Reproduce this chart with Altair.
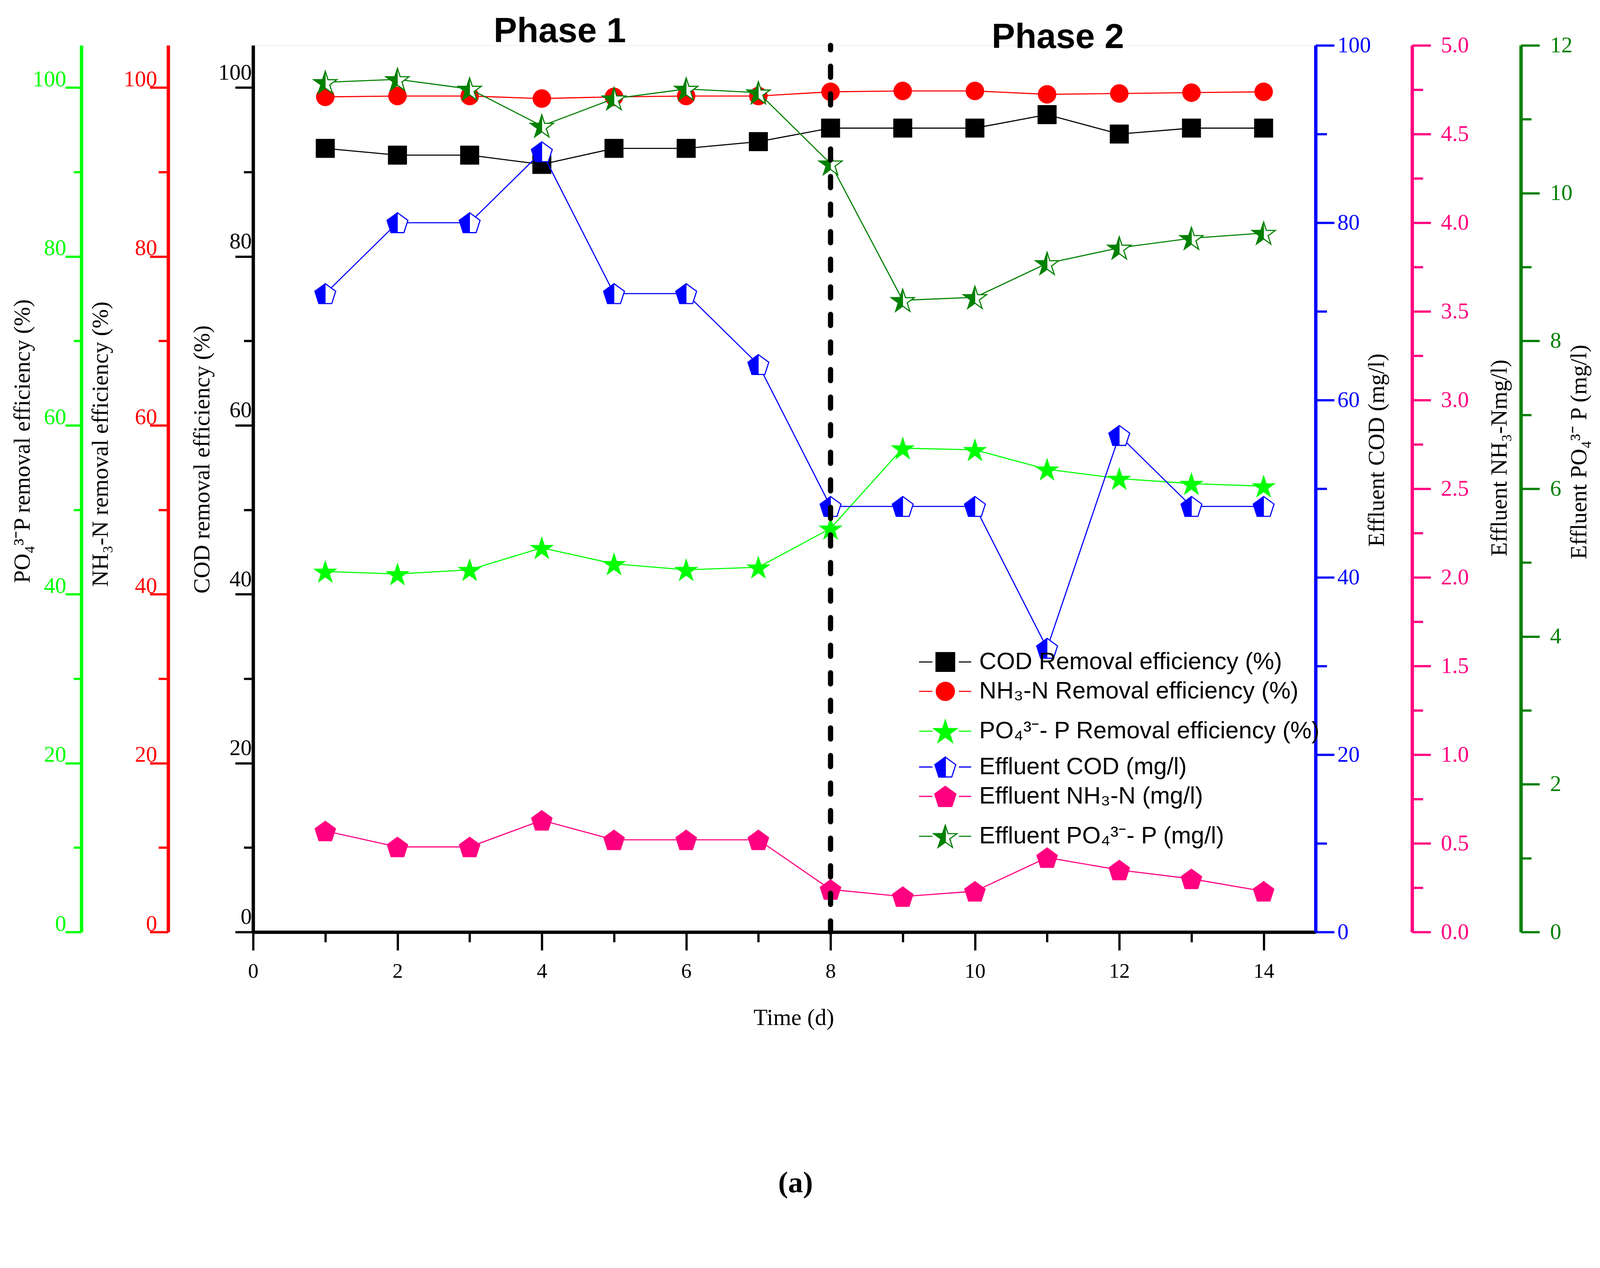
import altair as alt
import pandas as pd

# ---------------- data ----------------
days = list(range(1, 15))
cod_removal = [92.8, 92.0, 92.0, 90.9, 92.8, 92.8, 93.6, 95.2, 95.2, 95.2, 96.8, 94.5, 95.2, 95.2]
nh3_removal = [98.9, 99.0, 99.0, 98.7, 98.9, 99.0, 99.0, 99.5, 99.6, 99.6, 99.2, 99.3, 99.4, 99.5]
po4_removal = [42.7, 42.4, 42.9, 45.5, 43.6, 42.9, 43.2, 47.8, 57.3, 57.1, 54.8, 53.7, 53.1, 52.8]
eff_cod = [72, 80, 80, 88, 72, 72, 64, 48, 48, 48, 32, 56, 48, 48]
eff_nh3 = [0.57, 0.48, 0.48, 0.63, 0.52, 0.52, 0.52, 0.24, 0.20, 0.23, 0.42, 0.35, 0.30, 0.23]
eff_po4 = [11.50, 11.54, 11.41, 10.91, 11.28, 11.41, 11.36, 10.40, 8.55, 8.59, 9.05, 9.26, 9.39, 9.46]

legend_labels = [
    "COD Removal efficiency (%)",
    "NH\u2083-N Removal efficiency (%)",
    "PO\u2084\u00b3\u207b- P Removal efficiency (%)",
    "Effluent COD (mg/l)",
    "Effluent NH\u2083-N (mg/l)",
    "Effluent PO\u2084\u00b3\u207b- P (mg/l)",
]
legend_rows = [31.98, 28.5, 23.78, 19.54, 16.06, 11.34]   # in % scale units
legend_symbol_day = 9.59
legend_text_day = 10.06
legend_seg_left = [9.226, 9.412]
legend_seg_right = [9.778, 9.948]

phase_labels = ["Phase 1", "Phase 2"]
phase_days = [4.25, 11.15]
phase_levels = [106.6, 105.9]
phase_boundary = 8

x_major = [0, 2, 4, 6, 8, 10, 12, 14]
x_minor = [1, 3, 5, 7, 9, 11, 13]
pct_major = [0, 20, 40, 60, 80, 100]
pct_minor = [10, 30, 50, 70, 90]
cod_major = [0, 20, 40, 60, 80, 100]
cod_minor = [10, 30, 50, 70, 90]
nh3_major = [0, 0.5, 1.0, 1.5, 2.0, 2.5, 3.0, 3.5, 4.0, 4.5, 5.0]
nh3_minor = [0.25, 0.75, 1.25, 1.75, 2.25, 2.75, 3.25, 3.75, 4.25, 4.75]
po4_major = [0, 2, 4, 6, 8, 10, 12]
po4_minor = [1, 3, 5, 7, 9, 11]

# ---------------- style ----------------
SERIF = "Liberation Serif"
SANS = "Liberation Sans"
BLACK = "#000000"
RED = "#FF0000"
LGREEN = "#00FF00"
BLUE = "#0000FF"
PINK = "#FF0080"
DGREEN = "#008000"

PENT = "M0,-0.905L0.951,-0.214L0.588,0.905L-0.588,0.905L-0.951,-0.214Z"
PENT_L = "M0,-0.905L-0.951,-0.214L-0.588,0.905L0,0.905Z"
STAR = ("M0,-0.905L0.2245,-0.214L0.951,-0.214L0.363,0.214L0.588,0.905L0,0.478"
        "L-0.588,0.905L-0.363,0.214L-0.951,-0.214L-0.2245,-0.214Z")
STAR_L = "M0,-0.905L-0.2245,-0.214L-0.951,-0.214L-0.363,0.214L-0.588,0.905L0,0.478Z"

XS = alt.Scale(domain=[0, 14.72], nice=False, zero=False)
PCT = [0, 105]


def yscale(dom):
    return alt.Scale(domain=dom, nice=False, zero=False)


def major_axis(orient, offset, color, values, tick, pad, title, tx, ty, fmt,
               baseline, loff=0):
    return alt.Axis(
        orient=orient, offset=offset, values=values, format=fmt,
        tickSize=tick, tickWidth=6, tickColor=color,
        domainColor=color, domainWidth=9,
        labelColor=color, labelFont=SERIF, labelFontSize=60,
        labelAlign="right" if orient == "left" else "left",
        labelBaseline=baseline, labelPadding=pad, labelOffset=loff,
        labelOverlap=False, labelFlush=False, grid=False,
        title=title, titleFont=SERIF, titleFontSize=62, titleFontWeight="normal",
        titleColor="black", titleAngle=270, titleBaseline="middle",
        titleAlign="center", titleX=tx, titleY=ty,
    )


def minor_axis(values, dom, orient, offset, color, ticks, size):
    df = pd.DataFrame({"day": days, "v": values})
    return alt.Chart(df).mark_point(opacity=0, size=1).encode(
        x=alt.X("day:Q", scale=XS, axis=None),
        y=alt.Y("v:Q", scale=yscale(dom),
                axis=alt.Axis(orient=orient, offset=offset, values=ticks,
                              tickSize=size, tickWidth=6, tickColor=color,
                              domain=False, labels=False, grid=False, title=None)),
    )


def series(values, dom, axis, color, shape, size, half=None):
    df = pd.DataFrame({"day": days, "v": values})
    base = alt.Chart(df).encode(
        x=alt.X("day:Q", scale=XS, axis=None),
        y=alt.Y("v:Q", scale=yscale(dom), axis=axis),
    )
    layers = [base.mark_line(color=color, strokeWidth=3)]
    if half:
        layers.append(base.mark_point(shape=shape, size=size, filled=True, fill="white",
                                      stroke=color, strokeWidth=3, opacity=1))
        layers.append(base.mark_point(shape=half, size=size, filled=True, fill=color,
                                      stroke=color, strokeWidth=1.5, opacity=1))
    else:
        layers.append(base.mark_point(shape=shape, size=size, filled=True, fill=color,
                                      stroke=color, strokeWidth=1, opacity=1))
    return alt.layer(*layers)


s_cod = series(cod_removal, PCT,
               major_axis("left", 0, BLACK, pct_major, 48, -44,
                          "COD removal efficiency (%)", -137, 1111, "d", "alphabetic", -22),
               BLACK, "square", 2500)
s_nh3 = series(nh3_removal, PCT,
               major_axis("left", 228, RED, pct_major, 49, -19,
                          "NH\u2083-N removal efficiency (%)", -181, 1070, "d", "alphabetic", -4),
               RED, "circle", 2376)
s_po4 = series(po4_removal, PCT,
               major_axis("left", 461, LGREEN, pct_major, 43, -2,
                          "PO\u2084\u00b3\u207bP removal efficiency (%)", -158, 1062, "d",
                          "alphabetic", -4),
               LGREEN, STAR, 4300)
s_ecod = series(eff_cod, [0, 100],
                major_axis("right", 0, BLUE, cod_major, 50, 8,
                           "Effluent  COD (mg/l)", 164, 1086, "d", "middle"),
                BLUE, PENT, 3470, half=PENT_L)
s_enh3 = series(eff_nh3, [0, 5],
                major_axis("right", 259, PINK, nh3_major, 50, 27,
                           "Effluent NH\u2083-Nmg/l)", 234, 1107, ".1f", "middle"),
                PINK, PENT, 3600)
s_epo4 = series(eff_po4, [0, 12],
                major_axis("right", 551, DGREEN, po4_major, 50, 28,
                           "Effluent PO\u2084\u00b3\u207b P (mg/l)", 156, 1091, "d", "middle"),
                DGREEN, STAR, 4300, half=STAR_L)

minors = [
    minor_axis(cod_removal, PCT, "left", 0, BLACK, pct_minor, 25),
    minor_axis(nh3_removal, PCT, "left", 228, RED, pct_minor, 26),
    minor_axis(po4_removal, PCT, "left", 461, LGREEN, pct_minor, 21),
    minor_axis(eff_cod, [0, 100], "right", 0, BLUE, cod_minor, 30),
    minor_axis(eff_nh3, [0, 5], "right", 259, PINK, nh3_minor, 29),
    minor_axis(eff_po4, [0, 12], "right", 551, DGREEN, po4_minor, 28),
]

xdf = pd.DataFrame({"day": days, "v": cod_removal})
x_major_layer = alt.Chart(xdf).mark_point(opacity=0, size=1).encode(
    x=alt.X("day:Q", scale=XS, axis=alt.Axis(
        orient="bottom", values=x_major, format="d", tickSize=49, tickWidth=6,
        tickColor=BLACK, domainColor=BLACK, domainWidth=9,
        labelFont=SERIF, labelFontSize=56, labelColor=BLACK, labelPadding=29,
        labelFlush=False, labelOverlap=False, grid=False,
        title="Time (d)", titleFont=SERIF, titleFontSize=62, titleFontWeight="normal",
        titleColor=BLACK, titleX=1451, titleY=200, titleBaseline="top",
        titleAlign="center", titleAngle=0)),
    y=alt.Y("v:Q", scale=yscale(PCT), axis=None),
)
x_minor_layer = alt.Chart(xdf).mark_point(opacity=0, size=1).encode(
    x=alt.X("day:Q", scale=XS, axis=alt.Axis(
        orient="bottom", values=x_minor, tickSize=27, tickWidth=6, tickColor=BLACK,
        domain=False, labels=False, grid=False, title=None)),
    y=alt.Y("v:Q", scale=yscale(PCT), axis=None),
)

# ---------------- annotations ----------------
ann_y = yscale(PCT)
rule = alt.Chart(pd.DataFrame({"day": [phase_boundary], "y0": [0], "y1": [105]})).mark_rule(
    color=BLACK, strokeWidth=14, strokeDash=[30, 44], strokeCap="round"
).encode(
    x=alt.X("day:Q", scale=XS, axis=None),
    y=alt.Y("y0:Q", scale=ann_y, axis=None), y2="y1:Q",
)
phases = alt.Chart(pd.DataFrame({"day": phase_days, "lvl": phase_levels, "label": phase_labels})).mark_text(
    font=SANS, fontWeight="bold", fontSize=94, align="center", baseline="middle", color=BLACK
).encode(
    x=alt.X("day:Q", scale=XS, axis=None),
    y=alt.Y("lvl:Q", scale=ann_y, axis=None),
    text="label:N",
)

legend_colors = [BLACK, RED, LGREEN, BLUE, PINK, DGREEN]
seg_rows = []
for yv, c in zip(legend_rows, legend_colors):
    seg_rows.append({"x1": legend_seg_left[0], "x2": legend_seg_left[1], "ly": yv, "c": c})
    seg_rows.append({"x1": legend_seg_right[0], "x2": legend_seg_right[1], "ly": yv, "c": c})
leg_segs = alt.Chart(pd.DataFrame(seg_rows)).mark_rule(strokeWidth=3).encode(
    x=alt.X("x1:Q", scale=XS, axis=None), x2="x2:Q",
    y=alt.Y("ly:Q", scale=ann_y, axis=None),
    color=alt.Color("c:N", scale=None),
)

sym_shapes = ["square", "circle", STAR, PENT, PENT, STAR, PENT_L, STAR_L]
sym_fill = [BLACK, RED, LGREEN, "white", PINK, "white", BLUE, DGREEN]
sym_stroke = [BLACK, RED, LGREEN, BLUE, PINK, DGREEN, BLUE, DGREEN]
sym_size = [2500, 2376, 4300, 3470, 3600, 4300, 3470, 4300]
sym_rows = legend_rows + [legend_rows[3], legend_rows[5]]
sym_df = pd.DataFrame({
    "lx": [legend_symbol_day] * len(sym_rows), "ly": sym_rows, "shape": sym_shapes,
    "fill": sym_fill, "stroke": sym_stroke, "size": sym_size,
})
leg_syms = alt.Chart(sym_df).mark_point(filled=True, opacity=1, strokeWidth=3).encode(
    x=alt.X("lx:Q", scale=XS, axis=None),
    y=alt.Y("ly:Q", scale=ann_y, axis=None),
    shape=alt.Shape("shape:N", scale=None),
    fill=alt.Fill("fill:N", scale=None),
    stroke=alt.Stroke("stroke:N", scale=None),
    size=alt.Size("size:Q", scale=None),
)
leg_text = alt.Chart(pd.DataFrame({
    "lx": [legend_text_day] * 6, "ly": legend_rows, "label": legend_labels
})).mark_text(font=SANS, fontSize=64, align="left", baseline="middle", color=BLACK).encode(
    x=alt.X("lx:Q", scale=XS, axis=None),
    y=alt.Y("ly:Q", scale=ann_y, axis=None),
    text="label:N",
)

annotations = alt.layer(rule, phases, leg_segs, leg_syms, leg_text)

chart = alt.layer(
    s_cod, s_nh3, s_po4, s_ecod, s_enh3, s_epo4,
    *minors, x_major_layer, x_minor_layer, annotations,
).resolve_scale(x="independent", y="independent").properties(
    width=2852, height=2380,
    autosize=alt.AutoSizeParams(type="none"),
    padding={"left": 671, "top": 37, "right": 755, "bottom": 730},
    title=alt.TitleParams("(a)", orient="bottom", font=SERIF, fontSize=80,
                          fontWeight="bold", color=BLACK, offset=374, anchor="middle",
                          dx=30),
).configure_view(stroke="transparent").configure(background="white")

chart.save("out.html", embed_options={"renderer": "svg", "actions": False})
